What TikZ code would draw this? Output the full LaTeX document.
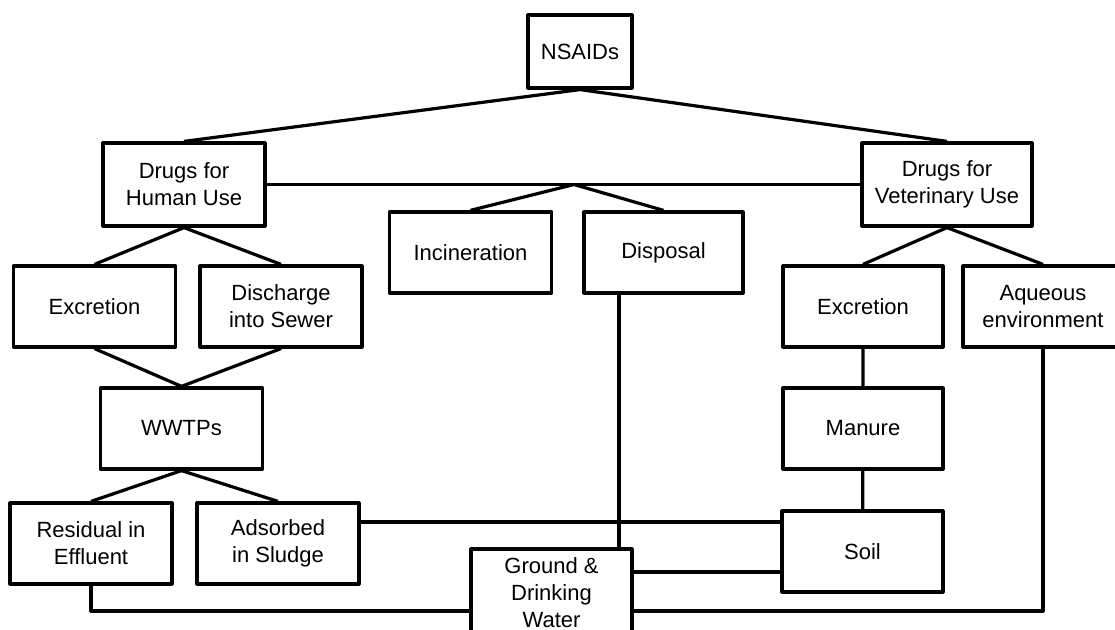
\documentclass[tikz,border=0pt]{standalone}
\usepackage{fontspec}
\setmainfont{Liberation Sans}
\begin{document}
\begin{tikzpicture}[x=0.5pt,y=-0.5pt,line width=1.6pt,line join=round,
blk/.style={draw,align=center,inner sep=0pt,minimum width=81pt,minimum height=40.5pt,font=\fontsize{11pt}{13.5pt}\selectfont}]
\clip(0,0) rectangle (1115,630);
\node[blk,minimum width=52pt,minimum height=36.5pt](nsaids) at (580,51.5){NSAIDs};
\node[blk,minimum height=41.5pt](human) at (184,184.5){Drugs for\\Human Use};
\node[blk,minimum width=85pt,minimum height=41.5pt](vet) at (947,184.5){Drugs for\\Veterinary Use};
\node[blk](incin) at (470.5,252.5){Incineration};
\node[blk,minimum width=79.5pt](disp) at (663.5,252.5){Disposal};
\node[blk](exh) at (94.5,306.5){Excretion};
\node[blk](sewer) at (281,306.5){Discharge\\into Sewer};
\node[blk,minimum width=80pt](exv) at (863,306.5){Excretion};
\node[blk,minimum width=80pt](aqua) at (1043,306.5){Aqueous\\environment};
\node[blk](wwtp) at (181.5,428.5){WWTPs};
\node[blk,minimum width=80pt](manure) at (863,428.5){Manure};
\node[blk](resid) at (91,543.5){Residual in\\Effluent};
\node[blk](adsorb) at (278,543.5){Adsorbed\\in Sludge};
\node[blk,minimum width=80.5pt](soil) at (862.5,551.5){Soil};
\node[blk,minimum width=80.5pt,minimum height=44pt](ground) at (551.5,593){Ground \&\\Drinking\\Water};
\coordinate(split) at (574,184.5);
\foreach \a/\b in {nsaids/human,nsaids/vet,split/incin,split/disp,human/exh,human/sewer,vet/exv,vet/aqua,wwtp/resid,wwtp/adsorb}
  {\draw(\a.south)--(\b.north);}
\foreach \a in {exh,sewer}{\draw(\a.south)--(wwtp.north);}
\draw(human.east)--(vet.west);
\draw(exv)--(manure)--(soil);
\coordinate(sl) at ([yshift=10.75pt]adsorb.east);
\draw(sl)--(sl-|soil.west);
\coordinate(dd) at ([xshift=-22.25pt]disp.south);
\draw(dd)--(dd|-ground.north);
\coordinate(gs) at ([yshift=10.5pt]ground.east);
\draw(gs)--(gs-|soil.west);
\draw(resid.south)|-([yshift=-9pt]ground.west);
\draw([yshift=-9pt]ground.east)-|(aqua.south);
\end{tikzpicture}
\end{document}
